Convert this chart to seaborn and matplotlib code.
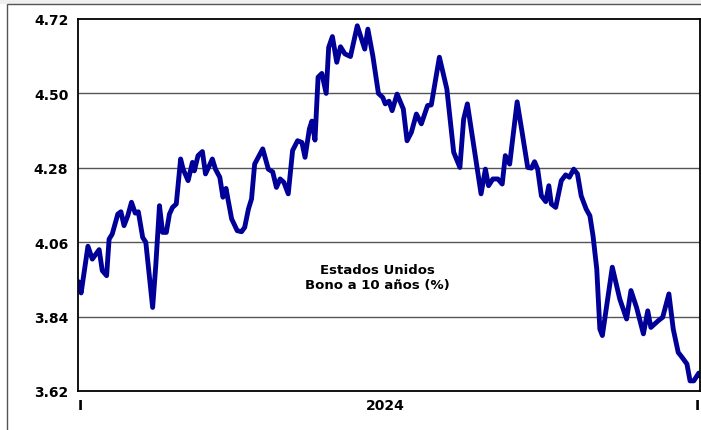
import numpy as np
import pandas as pd
import seaborn as sns
import matplotlib.pyplot as plt
from matplotlib.patches import Rectangle

# posicion en el eje (0 = inicio, 100 = fin del periodo) y rendimiento del bono
semana = [0.1, 0.5, 1.6, 2.3, 3.4, 3.9, 4.6, 5.0, 5.5, 6.4, 6.9, 7.4, 8.0, 8.6, 9.2, 9.7,
          10.4, 10.9, 12.0, 12.5, 13.1, 13.6, 14.2, 14.7, 15.2, 15.8, 16.5, 16.9, 17.7,
          18.4, 18.7, 19.3, 20.0, 20.5, 21.6, 22.1, 22.8, 23.3, 23.8, 24.1, 24.7, 25.6,
          26.3, 26.8, 27.4, 27.9, 28.4, 29.7, 30.6, 31.3, 31.9, 32.5, 33.1, 33.8, 34.5,
          35.3, 36.0, 36.5, 37.2, 37.6, 38.1, 38.6, 39.2, 39.9, 40.3, 40.9, 41.6, 42.2,
          42.9, 43.8, 44.9, 46.1, 46.6, 47.4, 48.3, 49.0, 49.4, 50.0, 50.5, 51.3, 52.3,
          52.9, 53.6, 54.4, 55.2, 56.2, 56.8, 58.1, 59.3, 60.4, 61.4, 62.0, 62.6, 63.7,
          64.8, 65.5, 66.0, 66.7, 67.5, 68.2, 68.7, 69.4, 70.6, 71.4, 72.3, 72.9, 73.4,
          73.9, 74.5, 75.2, 75.7, 76.1, 76.8, 77.7, 78.4, 79.0, 79.7, 80.3, 80.9, 81.7,
          82.3, 82.8, 83.4, 83.9, 84.3, 85.9, 87.1, 88.2, 88.9, 89.8, 90.9, 91.6, 92.1,
          93.3, 94.0, 95.0, 95.7, 96.5, 97.1, 97.9, 98.4, 99.0, 99.8, 100.0]
rendimiento = [3.943, 3.910, 4.048, 4.010, 4.038, 3.976, 3.961, 4.069, 4.084, 4.143, 4.150,
               4.109, 4.138, 4.178, 4.146, 4.150, 4.074, 4.060, 3.867, 3.990, 4.168, 4.089,
               4.089, 4.143, 4.163, 4.173, 4.306, 4.276, 4.242, 4.296, 4.271, 4.316, 4.328,
               4.262, 4.306, 4.276, 4.252, 4.193, 4.219, 4.188, 4.129, 4.094, 4.091, 4.104,
               4.158, 4.188, 4.291, 4.336, 4.276, 4.268, 4.222, 4.247, 4.237, 4.203, 4.331,
               4.360, 4.355, 4.311, 4.395, 4.418, 4.362, 4.548, 4.559, 4.500, 4.636, 4.668,
               4.592, 4.638, 4.617, 4.609, 4.700, 4.631, 4.690, 4.611, 4.500, 4.488, 4.469,
               4.477, 4.449, 4.498, 4.454, 4.360, 4.385, 4.439, 4.410, 4.464, 4.466, 4.607,
               4.513, 4.326, 4.281, 4.424, 4.469, 4.336, 4.203, 4.276, 4.227, 4.247, 4.247,
               4.232, 4.316, 4.291, 4.475, 4.385, 4.281, 4.279, 4.298, 4.276, 4.197, 4.180,
               4.227, 4.173, 4.163, 4.242, 4.259, 4.252, 4.276, 4.262, 4.197, 4.158, 4.138,
               4.079, 3.981, 3.803, 3.784, 3.986, 3.892, 3.833, 3.917, 3.867, 3.789, 3.857,
               3.808, 3.828, 3.838, 3.907, 3.803, 3.734, 3.720, 3.700, 3.650, 3.650, 3.673,
               3.665]

y_ticks = [3.62, 3.84, 4.06, 4.28, 4.50, 4.72]
x_ticks = [0, 49.4, 100]
x_labels = ["I", "2024", "I"]
titulo = "Estados Unidos\nBono a 10 años (%)"

df = pd.DataFrame({"semana": semana, "rendimiento": rendimiento})

sns.set_style("white")
plt.rcParams['font.family'] = ['DejaVu Sans']
plt.rcParams['text.color'] = 'black'
plt.rcParams['xtick.color'] = 'black'
plt.rcParams['ytick.color'] = 'black'

fig = plt.figure(figsize=(7.01, 4.31), dpi=100)
ax = fig.add_axes([78 / 701, 39 / 431, 622 / 701, 372 / 431])

# marco exterior de la figura
fig.add_artist(Rectangle((0, 1 - 5 / 431), 1, 5 / 431, transform=fig.transFigure,
                         facecolor='#efefef', edgecolor='none'))
fig.add_artist(Rectangle((7 / 701, -0.1), 1.2, 1.1 - 5 / 431, transform=fig.transFigure,
                         facecolor='none', edgecolor='#555555', linewidth=1))

sns.lineplot(data=df, x="semana", y="rendimiento", ax=ax, color="#000099",
             linewidth=3.5, solid_joinstyle='round', solid_capstyle='round')

ax.set_xlim(0, 100)
ax.set_ylim(3.62, 4.72)
ax.set_yticks(y_ticks)
ax.set_yticklabels([f"{v:.2f}" for v in y_ticks], fontsize=10, fontweight='bold')
ax.set_xticks(x_ticks)
ax.set_xticklabels(x_labels, fontsize=10, fontweight='bold')
ax.tick_params(axis='y', length=0, pad=7)
ax.tick_params(axis='x', length=0, pad=5)
xl = ax.get_xticklabels()
xl[0].set_ha('left')
xl[-1].set_ha('right')

for v in y_ticks[1:-1]:
    ax.axhline(v, color='#555555', linewidth=1, zorder=0)

for s in ax.spines.values():
    s.set_visible(True)
    s.set_color('black')
    s.set_linewidth(1.3)

ax.set_xlabel("")
ax.set_ylabel("")

ax.text(0.482, 0.306, titulo, transform=ax.transAxes, ha='center', va='center',
        fontsize=9.5, fontweight='bold', linespacing=1.15, color='black')

fig.savefig("out.png", dpi=100)
